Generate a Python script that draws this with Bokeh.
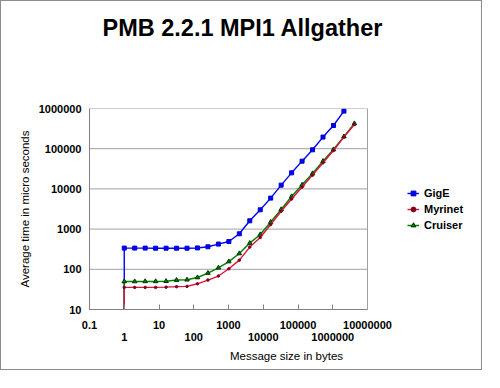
from bokeh.plotting import figure
from bokeh.models import (LogAxis, FixedTicker, CustomJSTickFormatter, Legend, LegendItem,
                          Title, Range1d, Span)
from bokeh.embed import file_html
from bokeh.resources import INLINE

# ---- data ----
message_sizes = [0, 1, 2, 4, 8, 16, 32, 64, 128, 256, 512, 1024, 2048, 4096, 8192,
                 16384, 32768, 65536, 131072, 262144, 524288, 1048576, 2097152, 4194304]
gige = [1, 337, 337, 337, 335, 335, 335, 335, 340, 363, 424, 490, 764, 1608, 3020,
        5900, 12400, 25100, 49000, 93900, 194500, 377000, 861000, float("nan")]
myrinet = [1, 35.5, 35.5, 35.5, 35.5, 36, 37, 37.6, 43.6, 54, 68, 103, 169, 357, 618,
           1300, 2780, 5600, 11100, 22000, 44600, 90200, 194500, 399000]
cruiser = [1, 49.7, 49.7, 50, 50, 50.5, 53.9, 55, 62.5, 80.4, 109, 156, 247, 449, 734,
           1493, 3080, 6500, 12600, 24200, 49000, 95500, 200000, 424000]

x_ticks = [0.1, 1, 10, 100, 1000, 10000, 100000, 1000000, 10000000]
x_ticks_row2 = [1, 100, 10000, 1000000]
y_ticks = [10, 100, 1000, 10000, 100000, 1000000]

title_text = "PMB 2.2.1 MPI1 Allgather"
x_label = "Message size in bytes"
y_label = "Average time in micro seconds"

# Excel draws a 0-byte message on a log axis at 1
plot_x = [s if s > 0 else 1 for s in message_sizes]

FONT = "Liberation Sans"
W, H = 482, 370
LEFT, PLOT_W, RIGHT_PAD = 88, 278, 116
x_min, x_max = x_ticks[0], x_ticks[-1]
px_per_decade = PLOT_W / 8.0
# the frame also covers the legend area on the right; the drawn plot area ends at x_max
x_view_end = x_max * 10 ** (RIGHT_PAD / px_per_decade)

p = figure(width=W, height=H, x_axis_type="log", y_axis_type="log",
           x_range=Range1d(x_min, x_view_end), y_range=Range1d(y_ticks[0], y_ticks[-1]),
           output_backend="svg", toolbar_location=None,
           min_border_left=LEFT, min_border_right=0, min_border_top=107, min_border_bottom=62,
           styles={"border": "1px solid #8c8c8c"})
p.background_fill_color = "white"
p.border_fill_color = "white"
p.outline_line_color = None

GRID = "#a0a0a0"
AX = "#808080"

# title (outermost) and a blank spacer between it and the plot area
p.title.text = title_text
p.title.align = "left"
p.title.offset = 13
p.title.text_font = FONT
p.title.text_font_style = "bold"
p.title.text_font_size = "23.5px"
p.title.text_color = "black"
p.title.standoff = 10
spacer = Title(text=" ", text_font_size="10px", standoff=50)
p.add_layout(spacer, "above")

# y axis
ya = p.yaxis[0]
ya.ticker = FixedTicker(ticks=y_ticks, minor_ticks=[])
ya.formatter = CustomJSTickFormatter(code="return tick.toString()")
ya.major_tick_in = 0
ya.major_tick_out = 0
ya.minor_tick_line_color = None
ya.axis_line_color = AX
ya.major_label_text_font = FONT
ya.major_label_text_font_style = "bold"
ya.major_label_text_font_size = "11px"
ya.major_label_text_color = "black"
ya.major_label_standoff = 8
ya.axis_label = y_label
ya.axis_label_text_font = FONT
ya.axis_label_text_font_style = "normal"
ya.axis_label_text_font_size = "11.5px"
ya.axis_label_text_color = "black"
ya.axis_label_standoff = 5

# x axis, first row of labels
xa = p.xaxis[0]
xa.bounds = (x_min, x_max)
xa.ticker = FixedTicker(ticks=x_ticks, minor_ticks=[])
xa.formatter = CustomJSTickFormatter(
    code="const e = Math.round(Math.log10(tick)); return (e % 2 === 0) ? '' : tick.toString()")
xa.major_tick_in = 5
xa.major_tick_out = 0
xa.major_tick_line_color = AX
xa.minor_tick_line_color = None
xa.axis_line_color = AX
xa.major_label_text_font = FONT
xa.major_label_text_font_style = "bold"
xa.major_label_text_font_size = "11px"
xa.major_label_text_color = "black"
xa.major_label_standoff = 11

# x axis, second row of labels
xa2 = LogAxis(ticker=FixedTicker(ticks=x_ticks_row2, minor_ticks=[]),
              formatter=CustomJSTickFormatter(code="return tick.toString()"),
              bounds=(x_min, x_max))
xa2.axis_line_color = None
xa2.major_tick_line_color = None
xa2.minor_tick_line_color = None
xa2.major_tick_in = 0
xa2.major_tick_out = 0
xa2.major_label_text_font = FONT
xa2.major_label_text_font_style = "bold"
xa2.major_label_text_font_size = "11px"
xa2.major_label_text_color = "black"
xa2.major_label_standoff = 1
xa2.axis_label = x_label
xa2.axis_label_text_font = FONT
xa2.axis_label_text_font_style = "normal"
xa2.axis_label_text_font_size = "11.5px"
xa2.axis_label_text_color = "black"
xa2.axis_label_standoff = 6
p.add_layout(xa2, "below")

# horizontal gridlines limited to the plot area, and its right border
p.xgrid.grid_line_color = None
p.ygrid.grid_line_color = None
p.segment(x0=[x_min] * len(y_ticks), y0=y_ticks, x1=[x_max] * len(y_ticks), y1=y_ticks,
          line_color=GRID, line_width=1)
p.add_layout(Span(location=x_max, dimension="height", line_color=GRID, line_width=1))

# series (drawn GigE, Cruiser, Myrinet so that Myrinet is on top, as in the reference)
r_g_l = p.line(plot_x, gige, line_color="#0000ff", line_width=1.4)
r_g_m = p.scatter(plot_x, gige, marker="square", size=4, fill_color="#0000ff", line_color="#0000cc")
r_c_l = p.line(plot_x, cruiser, line_color="#008000", line_width=1.5)
r_c_m = p.scatter(plot_x, cruiser, marker="triangle", size=4.5, fill_color="#008000", line_color="#003000")
r_m_l = p.line(plot_x, myrinet, line_color="#e0103a", line_width=1.4)
r_m_m = p.scatter(plot_x, myrinet, marker="circle", size=2.5, fill_color="#800020", line_color="#800020")

legend = Legend(items=[LegendItem(label="GigE", renderers=[r_g_l, r_g_m]),
                       LegendItem(label="Myrinet", renderers=[r_m_l, r_m_m]),
                       LegendItem(label="Cruiser", renderers=[r_c_l, r_c_m])],
                location=(PLOT_W + 40, 76), orientation="vertical")
legend.border_line_color = None
legend.background_fill_alpha = 0
legend.padding = 0
legend.margin = 0
legend.spacing = 0
legend.glyph_width = 12
legend.glyph_height = 16
legend.label_height = 16
legend.label_standoff = 5
legend.label_text_font = FONT
legend.label_text_font_style = "bold"
legend.label_text_font_size = "11px"
legend.label_text_color = "black"
p.add_layout(legend, "center")

open("out.html", "w").write(file_html(p, INLINE))
